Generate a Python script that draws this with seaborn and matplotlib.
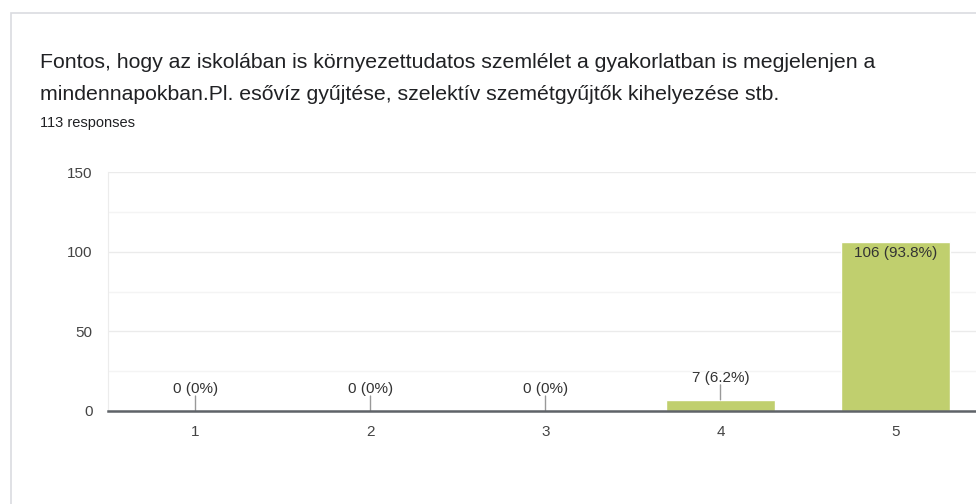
import matplotlib
matplotlib.use("Agg")
import matplotlib.pyplot as plt
import matplotlib.patches as mpatches
import seaborn as sns
import pandas as pd
from matplotlib.ticker import MultipleLocator

# Data
categories = ['1', '2', '3', '4', '5']
counts = [0, 0, 0, 7, 106]
labels = ['0 (0%)', '0 (0%)', '0 (0%)', '7 (6.2%)', '106 (93.8%)']

title = ("Fontos, hogy az iskolában is környezettudatos szemlélet a gyakorlatban is megjelenjen a\n"
         "mindennapokban.Pl. esővíz gyűjtése, szelektív szemétgyűjtők kihelyezése stb.")
subtitle = "113 responses"

df = pd.DataFrame({'rating': categories, 'count': counts})

sns.set_style("white")
plt.rcParams['font.family'] = ['Liberation Sans', 'DejaVu Sans']

fig = plt.figure(figsize=(9.76, 5.04), dpi=100)
fig.patch.set_facecolor('white')

# card frame
fig.add_artist(mpatches.Rectangle((11 / 976, -0.1), 1.2, 1 - 13 / 504 + 0.1,
                                  transform=fig.transFigure, fill=False,
                                  edgecolor='#dadce0', linewidth=1.2))

ax = fig.add_axes([108 / 976, 1 - 411 / 504, 875 / 976, 239 / 504])
sns.barplot(data=df, x='rating', y='count', color='#c0cf6e', width=0.62,
            saturation=1, ax=ax)

ax.set_ylim(0, 150)
ax.yaxis.set_major_locator(MultipleLocator(50))
ax.yaxis.set_minor_locator(MultipleLocator(25))
ax.grid(axis='y', which='major', color='#ebebeb', linewidth=1)
ax.grid(axis='y', which='minor', color='#f4f4f4', linewidth=1)
ax.set_axisbelow(True)

for s in ['top', 'right']:
    ax.spines[s].set_visible(False)
ax.spines['left'].set_color('#ececec')
ax.spines['bottom'].set_color('#5f6368')
ax.spines['bottom'].set_linewidth(1.8)
ax.spines['bottom'].set_zorder(5)

ax.tick_params(axis='both', length=0, labelsize=11, colors='#444444')
ax.tick_params(axis='y', pad=11)
ax.tick_params(axis='x', pad=10)
ax.set_xlabel('')
ax.set_ylabel('')

for i, (c, lab) in enumerate(zip(counts, labels)):
    if c > 20:
        ax.annotate(lab, xy=(i, c), xytext=(0, -4), textcoords='offset pixels',
                    ha='center', va='top', fontsize=11, color='#333333')
    else:
        ax.annotate(lab, xy=(i, c), xytext=(0, 15), textcoords='offset pixels',
                    ha='center', va='bottom', fontsize=11, color='#333333')
        ax.annotate('', xy=(i, c), xytext=(0, 15), textcoords='offset pixels',
                    arrowprops=dict(arrowstyle='-', color='#999999', lw=1,
                                    shrinkA=0, shrinkB=0))

fig.text(40 / 976, 1 - 63 / 504, title.split('\n')[0], ha='left', va='center',
         fontsize=15.3, color='#202124')
fig.text(40 / 976, 1 - 95 / 504, title.split('\n')[1], ha='left', va='center',
         fontsize=15.3, color='#202124')
fig.text(40 / 976, 1 - 123 / 504, subtitle, ha='left', va='center', fontsize=10.5,
         color='#202124')

fig.savefig('out.png', dpi=100, facecolor='white')
